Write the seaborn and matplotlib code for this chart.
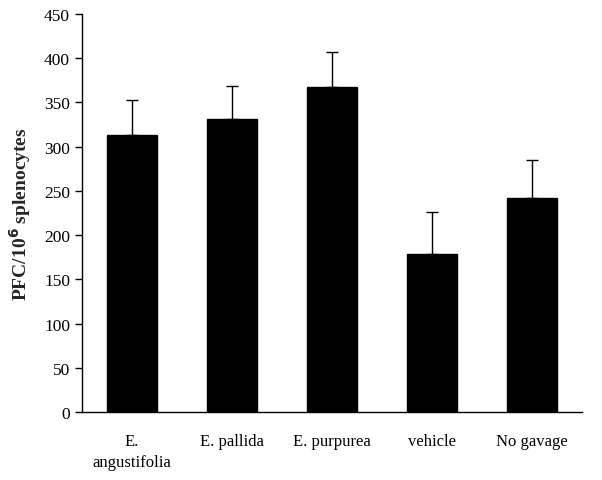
import matplotlib
matplotlib.use("Agg")
import matplotlib.pyplot as plt
import seaborn as sns
import pandas as pd
import numpy as np

categories = ["E.\nangustifolia", "E. pallida", "E. purpurea", "vehicle", "No gavage"]
means = [313, 331, 367, 179, 242]
errors = [40, 38, 40, 47, 43]

sns.set_theme(style="ticks")
plt.rcParams['font.family'] = ['Liberation Serif', 'DejaVu Serif']

df = pd.DataFrame({"group": categories, "value": means})

fig = plt.figure(figsize=(6.02, 4.81), dpi=100)
ax = fig.add_axes([0.136, 0.1414, 0.831, 0.8276])

sns.barplot(data=df, x="group", y="value", color="black", width=0.5,
            edgecolor="black", saturation=1, ax=ax, errorbar=None)
x = np.arange(len(categories))
ax.errorbar(x, means, yerr=[np.zeros(len(errors)), errors], fmt="none",
            ecolor="black", elinewidth=1, capsize=4, capthick=1)

ax.set_ylim(0, 450)
ax.set_xlim(-0.5, len(categories) - 0.5)
ax.set_yticks(range(0, 451, 50))
ax.tick_params(axis="y", length=5, width=1, labelsize=12.5, colors="black", direction="out")
ax.tick_params(axis="x", length=0, labelsize=12, colors="black", pad=15)
for lbl in ax.get_xticklabels():
    lbl.set_linespacing(1.4)
ax.set_xlabel("")
ax.set_ylabel("PFC/10$^{\\mathbf{6}}$ splenocytes", fontsize=14, fontweight="bold", labelpad=8)
for s in ["top", "right"]:
    ax.spines[s].set_visible(False)
for s in ["left", "bottom"]:
    ax.spines[s].set_color("black")
    ax.spines[s].set_linewidth(1)

fig.savefig("out.png", dpi=100, facecolor="white")
